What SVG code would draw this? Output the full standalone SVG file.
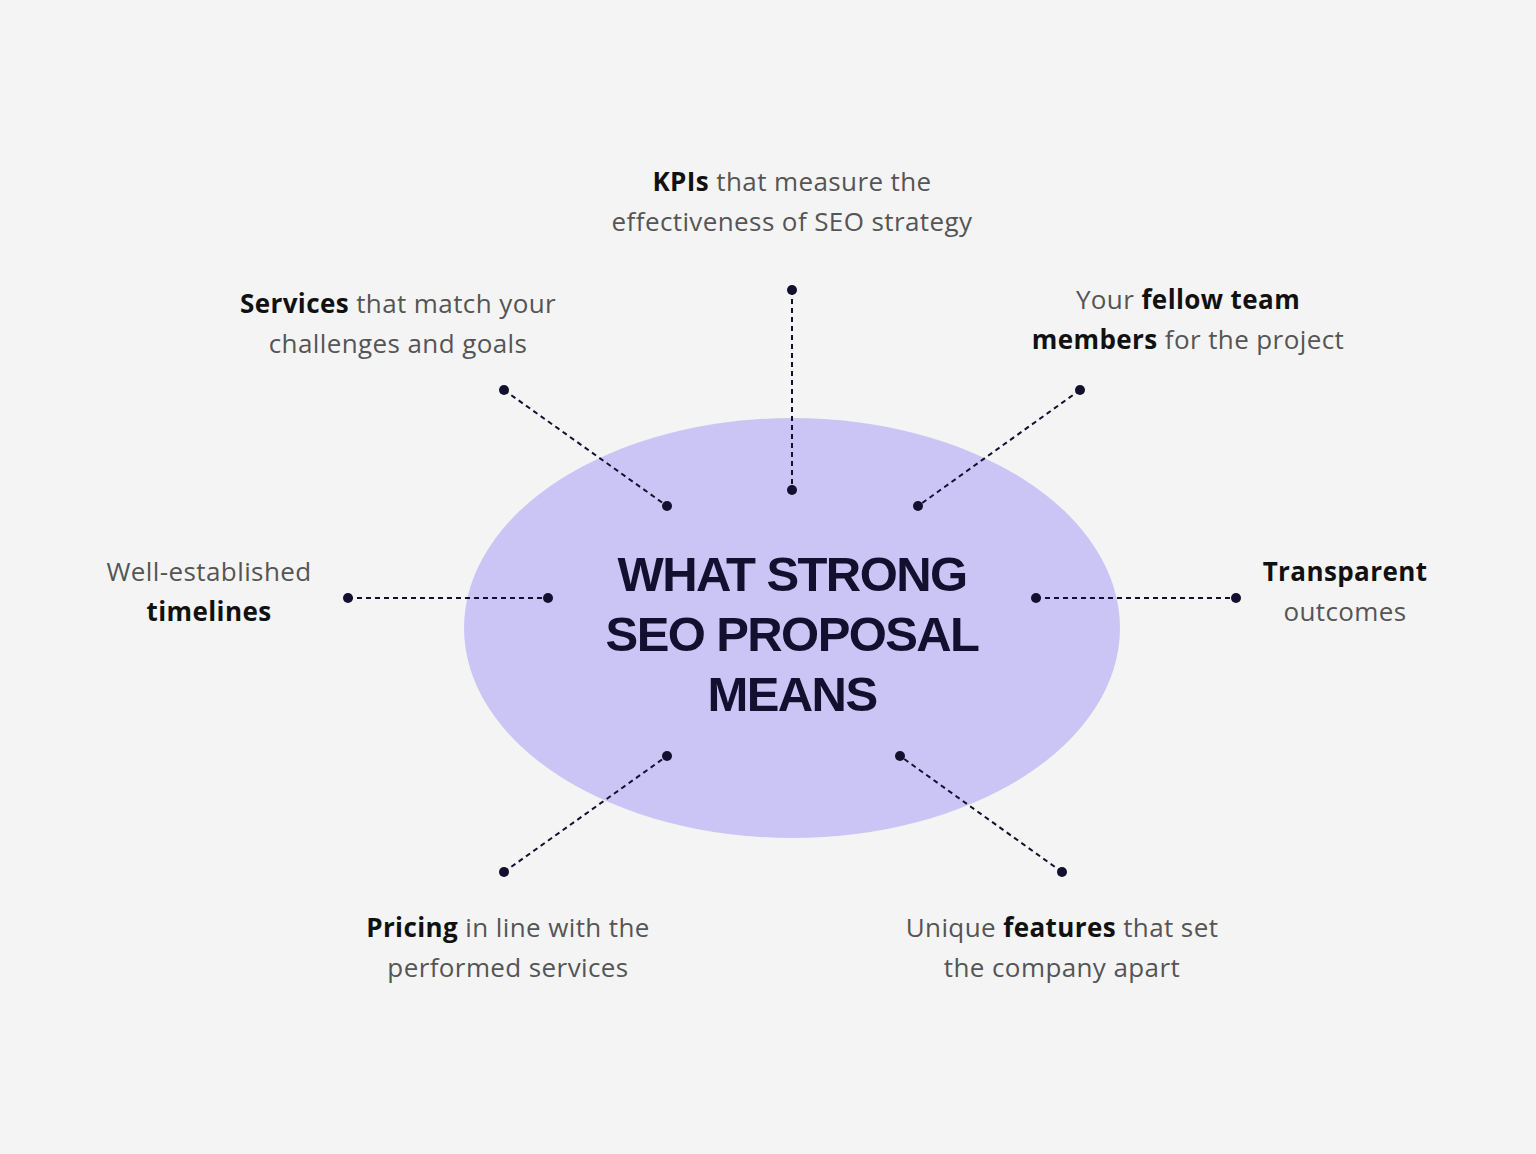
<svg xmlns="http://www.w3.org/2000/svg" width="1536" height="1154" viewBox="0 0 1536 1154">
<style>
.t{font-family:"Open Sans","Liberation Sans",sans-serif;font-size:26px;letter-spacing:0.4px;fill:#555;text-anchor:middle}
.b{font-weight:700;fill:#111}
.h{font-family:"Liberation Sans",Arial,sans-serif;font-weight:700;font-size:49px;fill:#12102e;text-anchor:middle;letter-spacing:-1.6px}
.l{stroke:#12102e;stroke-width:2;stroke-dasharray:5 4;fill:none}
.d{fill:#12102e}
</style>
<rect width="1536" height="1154" fill="#f4f4f4"/>
<g id="center">
<ellipse cx="792" cy="628" rx="328" ry="210" fill="#cbc5f5"/>
<text class="h" x="792" y="591">WHAT STRONG</text>
<text class="h" x="792" y="651">SEO PROPOSAL</text>
<text class="h" x="792" y="711">MEANS</text>
</g>
<g id="connectors">
<line class="l" x1="792" y1="290" x2="792" y2="490"/>
<line class="l" x1="504" y1="390" x2="667" y2="506"/>
<line class="l" x1="1080" y1="390" x2="918" y2="506"/>
<line class="l" x1="348" y1="598" x2="548" y2="598"/>
<line class="l" x1="1036" y1="598" x2="1236" y2="598"/>
<line class="l" x1="504" y1="872" x2="667" y2="756"/>
<line class="l" x1="1062" y1="872" x2="900" y2="756"/>
<g class="d">
<circle cx="792" cy="290" r="5"/><circle cx="792" cy="490" r="5"/>
<circle cx="504" cy="390" r="5"/><circle cx="667" cy="506" r="5"/>
<circle cx="1080" cy="390" r="5"/><circle cx="918" cy="506" r="5"/>
<circle cx="348" cy="598" r="5"/><circle cx="548" cy="598" r="5"/>
<circle cx="1036" cy="598" r="5"/><circle cx="1236" cy="598" r="5"/>
<circle cx="504" cy="872" r="5"/><circle cx="667" cy="756" r="5"/>
<circle cx="1062" cy="872" r="5"/><circle cx="900" cy="756" r="5"/>
</g>
</g>
<g id="kpis"><text class="t" x="792" y="191"><tspan class="b">KPIs</tspan> that measure the</text><text class="t" x="792" y="231">effectiveness of SEO strategy</text></g>
<g id="services"><text class="t" x="398" y="313"><tspan class="b">Services</tspan> that match your</text><text class="t" x="398" y="353">challenges and goals</text></g>
<g id="team"><text class="t" x="1188" y="309">Your <tspan class="b">fellow team</tspan></text><text class="t" x="1188" y="349"><tspan class="b">members</tspan> for the project</text></g>
<g id="timelines"><text class="t" x="209" y="581">Well-established</text><text class="t b" x="209" y="621">timelines</text></g>
<g id="transparent"><text class="t b" x="1345" y="581">Transparent</text><text class="t" x="1345" y="621">outcomes</text></g>
<g id="pricing"><text class="t" x="508" y="937"><tspan class="b">Pricing</tspan> in line with the</text><text class="t" x="508" y="977">performed services</text></g>
<g id="features"><text class="t" x="1062" y="937">Unique <tspan class="b">features</tspan> that set</text><text class="t" x="1062" y="977">the company apart</text></g>
</svg>
